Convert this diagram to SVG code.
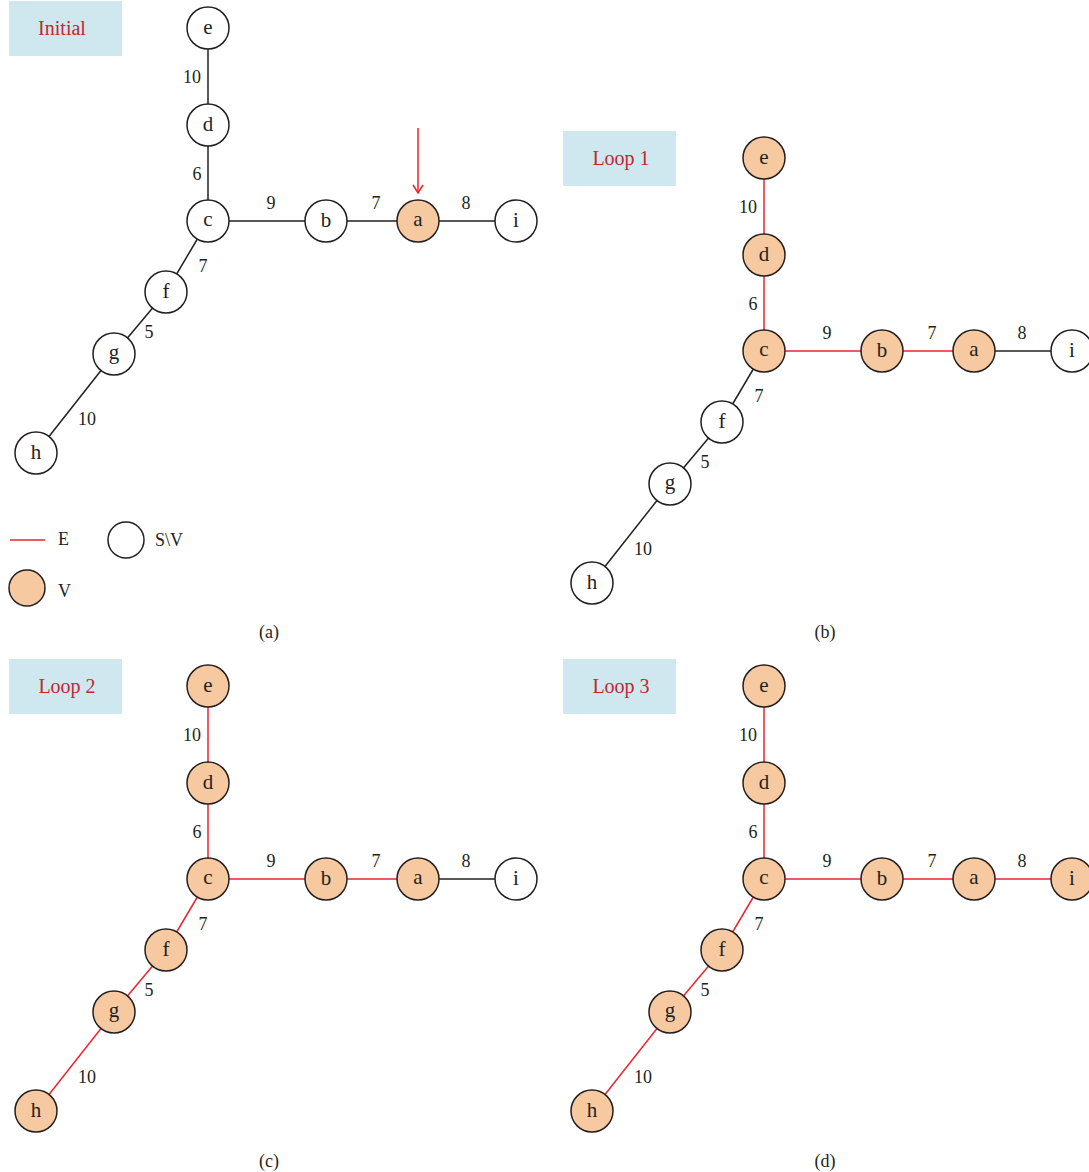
<svg xmlns="http://www.w3.org/2000/svg" width="1089" height="1172" viewBox="0 0 1089 1172">
<style>
text{font-family:"Liberation Serif","DejaVu Serif",serif;fill:#231f20}
.n circle{stroke:#231f20;stroke-width:1.5;fill:#fff}
.n.v circle{fill:#f7c9a1}
.n text{font-size:21px;text-anchor:middle;dominant-baseline:central}
.w{font-size:18px;text-anchor:middle;dominant-baseline:central}
.k{stroke:#231f20;stroke-width:1.5}
.r{stroke:#e8252d;stroke-width:1.5}
.tag rect{fill:#cfe8ef}
.tag text{fill:#c1272d;font-size:20px;text-anchor:middle;dominant-baseline:central}
.cap{font-size:18px;text-anchor:middle;dominant-baseline:central}
.lg{font-size:18px;dominant-baseline:central}
</style>
<defs>
<marker id="ah" viewBox="0 0 10 12" refX="9" refY="6" markerWidth="10" markerHeight="12" markerUnits="userSpaceOnUse" orient="auto">
<path d="M1,1 L9,6 L1,11" fill="none" stroke="#e8252d" stroke-width="1.5"/>
</marker>
</defs>

<!-- ===== Panel (a) ===== -->
<g id="tag-a" class="tag"><rect x="9" y="1" width="113" height="55"/><text x="62" y="28">Initial</text></g>
<g id="edges-a">
<line class="k" x1="208" y1="28" x2="208" y2="125"/>
<line class="k" x1="208" y1="125" x2="208" y2="221"/>
<line class="k" x1="208" y1="221" x2="326" y2="221"/>
<line class="k" x1="326" y1="221" x2="418" y2="221"/>
<line class="k" x1="418" y1="221" x2="516" y2="221"/>
<line class="k" x1="208" y1="221" x2="166" y2="292"/>
<line class="k" x1="166" y1="292" x2="114" y2="354"/>
<line class="k" x1="114" y1="354" x2="36" y2="453"/>
<line class="r" x1="418" y1="128" x2="418" y2="193" marker-end="url(#ah)"/>
<text class="w" x="192" y="77">10</text><text class="w" x="197" y="174">6</text>
<text class="w" x="271" y="203">9</text><text class="w" x="376" y="203">7</text>
<text class="w" x="466" y="203">8</text><text class="w" x="203" y="266">7</text>
<text class="w" x="149" y="332">5</text><text class="w" x="87" y="419">10</text>
</g>
<g id="a-e" class="n"><circle cx="208" cy="28" r="21"/><text x="208" y="27">e</text></g>
<g id="a-d" class="n"><circle cx="208" cy="125" r="21"/><text x="208" y="124">d</text></g>
<g id="a-c" class="n"><circle cx="208" cy="221" r="21"/><text x="208" y="219">c</text></g>
<g id="a-b" class="n"><circle cx="326" cy="221" r="21"/><text x="326" y="220">b</text></g>
<g id="a-a" class="n v"><circle cx="418" cy="221" r="21"/><text x="418" y="219">a</text></g>
<g id="a-i" class="n"><circle cx="516" cy="221" r="21"/><text x="516" y="220">i</text></g>
<g id="a-f" class="n"><circle cx="166" cy="292" r="21"/><text x="166" y="291">f</text></g>
<g id="a-g" class="n"><circle cx="114" cy="354" r="21"/><text x="114" y="352">g</text></g>
<g id="a-h" class="n"><circle cx="36" cy="453" r="21"/><text x="36" y="452">h</text></g>
<g id="legend">
<line class="r" x1="10" y1="540" x2="45" y2="540"/>
<text class="lg" x="58" y="539">E</text>
<circle cx="126" cy="540" r="18" fill="#fff" stroke="#231f20" stroke-width="1.5"/>
<text class="lg" x="155" y="540">S\V</text>
<circle cx="27" cy="588" r="18" fill="#f7c9a1" stroke="#231f20" stroke-width="1.5"/>
<text class="lg" x="58" y="591">V</text>
</g>
<text class="cap" x="269" y="632">(a)</text>

<!-- ===== Panel (b) ===== -->
<g id="tag-b" class="tag"><rect x="563" y="131" width="113" height="55"/><text x="621" y="158">Loop 1</text></g>
<g id="edges-b">
<line class="r" x1="764" y1="158" x2="764" y2="255"/>
<line class="r" x1="764" y1="255" x2="764" y2="351"/>
<line class="r" x1="764" y1="351" x2="882" y2="351"/>
<line class="r" x1="882" y1="351" x2="974" y2="351"/>
<line class="k" x1="974" y1="351" x2="1072" y2="351"/>
<line class="k" x1="764" y1="351" x2="722" y2="422"/>
<line class="k" x1="722" y1="422" x2="670" y2="484"/>
<line class="k" x1="670" y1="484" x2="592" y2="583"/>
<text class="w" x="748" y="207">10</text><text class="w" x="753" y="304">6</text>
<text class="w" x="827" y="333">9</text><text class="w" x="932" y="333">7</text>
<text class="w" x="1022" y="333">8</text><text class="w" x="759" y="396">7</text>
<text class="w" x="705" y="462">5</text><text class="w" x="643" y="549">10</text>
</g>
<g id="b-e" class="n v"><circle cx="764" cy="158" r="21"/><text x="764" y="157">e</text></g>
<g id="b-d" class="n v"><circle cx="764" cy="255" r="21"/><text x="764" y="254">d</text></g>
<g id="b-c" class="n v"><circle cx="764" cy="351" r="21"/><text x="764" y="349">c</text></g>
<g id="b-b" class="n v"><circle cx="882" cy="351" r="21"/><text x="882" y="350">b</text></g>
<g id="b-a" class="n v"><circle cx="974" cy="351" r="21"/><text x="974" y="349">a</text></g>
<g id="b-i" class="n"><circle cx="1072" cy="351" r="21"/><text x="1072" y="350">i</text></g>
<g id="b-f" class="n"><circle cx="722" cy="422" r="21"/><text x="722" y="421">f</text></g>
<g id="b-g" class="n"><circle cx="670" cy="484" r="21"/><text x="670" y="482">g</text></g>
<g id="b-h" class="n"><circle cx="592" cy="583" r="21"/><text x="592" y="582">h</text></g>
<text class="cap" x="825" y="632">(b)</text>

<!-- ===== Panel (c) ===== -->
<g id="tag-c" class="tag"><rect x="9" y="659" width="113" height="55"/><text x="67" y="686">Loop 2</text></g>
<g id="edges-c">
<line class="r" x1="208" y1="686" x2="208" y2="783"/>
<line class="r" x1="208" y1="783" x2="208" y2="879"/>
<line class="r" x1="208" y1="879" x2="326" y2="879"/>
<line class="r" x1="326" y1="879" x2="418" y2="879"/>
<line class="k" x1="418" y1="879" x2="516" y2="879"/>
<line class="r" x1="208" y1="879" x2="166" y2="950"/>
<line class="r" x1="166" y1="950" x2="114" y2="1012"/>
<line class="r" x1="114" y1="1012" x2="36" y2="1111"/>
<text class="w" x="192" y="735">10</text><text class="w" x="197" y="832">6</text>
<text class="w" x="271" y="861">9</text><text class="w" x="376" y="861">7</text>
<text class="w" x="466" y="861">8</text><text class="w" x="203" y="924">7</text>
<text class="w" x="149" y="990">5</text><text class="w" x="87" y="1077">10</text>
</g>
<g id="c-e" class="n v"><circle cx="208" cy="686" r="21"/><text x="208" y="685">e</text></g>
<g id="c-d" class="n v"><circle cx="208" cy="783" r="21"/><text x="208" y="782">d</text></g>
<g id="c-c" class="n v"><circle cx="208" cy="879" r="21"/><text x="208" y="877">c</text></g>
<g id="c-b" class="n v"><circle cx="326" cy="879" r="21"/><text x="326" y="878">b</text></g>
<g id="c-a" class="n v"><circle cx="418" cy="879" r="21"/><text x="418" y="877">a</text></g>
<g id="c-i" class="n"><circle cx="516" cy="879" r="21"/><text x="516" y="878">i</text></g>
<g id="c-f" class="n v"><circle cx="166" cy="950" r="21"/><text x="166" y="949">f</text></g>
<g id="c-g" class="n v"><circle cx="114" cy="1012" r="21"/><text x="114" y="1010">g</text></g>
<g id="c-h" class="n v"><circle cx="36" cy="1111" r="21"/><text x="36" y="1110">h</text></g>
<text class="cap" x="269" y="1161">(c)</text>

<!-- ===== Panel (d) ===== -->
<g id="tag-d" class="tag"><rect x="563" y="659" width="113" height="55"/><text x="621" y="686">Loop 3</text></g>
<g id="edges-d">
<line class="r" x1="764" y1="686" x2="764" y2="783"/>
<line class="r" x1="764" y1="783" x2="764" y2="879"/>
<line class="r" x1="764" y1="879" x2="882" y2="879"/>
<line class="r" x1="882" y1="879" x2="974" y2="879"/>
<line class="r" x1="974" y1="879" x2="1072" y2="879"/>
<line class="r" x1="764" y1="879" x2="722" y2="950"/>
<line class="r" x1="722" y1="950" x2="670" y2="1012"/>
<line class="r" x1="670" y1="1012" x2="592" y2="1111"/>
<text class="w" x="748" y="735">10</text><text class="w" x="753" y="832">6</text>
<text class="w" x="827" y="861">9</text><text class="w" x="932" y="861">7</text>
<text class="w" x="1022" y="861">8</text><text class="w" x="759" y="924">7</text>
<text class="w" x="705" y="990">5</text><text class="w" x="643" y="1077">10</text>
</g>
<g id="d-e" class="n v"><circle cx="764" cy="686" r="21"/><text x="764" y="685">e</text></g>
<g id="d-d" class="n v"><circle cx="764" cy="783" r="21"/><text x="764" y="782">d</text></g>
<g id="d-c" class="n v"><circle cx="764" cy="879" r="21"/><text x="764" y="877">c</text></g>
<g id="d-b" class="n v"><circle cx="882" cy="879" r="21"/><text x="882" y="878">b</text></g>
<g id="d-a" class="n v"><circle cx="974" cy="879" r="21"/><text x="974" y="877">a</text></g>
<g id="d-i" class="n v"><circle cx="1072" cy="879" r="21"/><text x="1072" y="878">i</text></g>
<g id="d-f" class="n v"><circle cx="722" cy="950" r="21"/><text x="722" y="949">f</text></g>
<g id="d-g" class="n v"><circle cx="670" cy="1012" r="21"/><text x="670" y="1010">g</text></g>
<g id="d-h" class="n v"><circle cx="592" cy="1111" r="21"/><text x="592" y="1110">h</text></g>
<text class="cap" x="825" y="1161">(d)</text>
</svg>
